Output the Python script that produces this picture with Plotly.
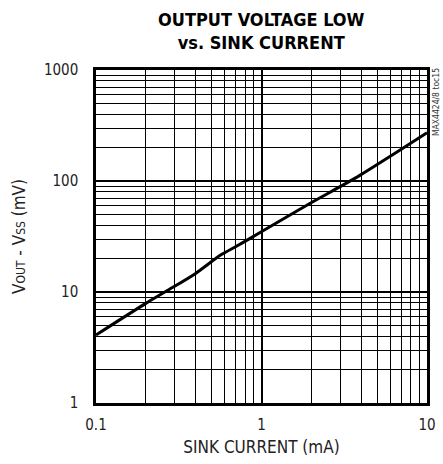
import plotly.graph_objects as go

sink_current_ma = [0.1, 0.2, 0.264, 0.4, 0.566, 0.697, 0.859, 0.986, 1.97, 2.99, 3.95, 6.88, 10.0]
vout_vss_mv = [4.1, 7.9, 10.1, 14.7, 21.5, 25.6, 30.6, 34.5, 63.0, 89.0, 113.0, 190.0, 272.0]

x_tickvals = [0.1, 1, 10]
x_ticktext = ["0.1", "1", "10"]
y_tickvals = [1, 10, 100, 1000]
y_ticktext = ["1", "10", "100", "1000"]

label_font = "DejaVu Sans Condensed, Liberation Sans Narrow, sans-serif"
title_font = "DejaVu Sans Condensed, sans-serif"

fig = go.Figure()
fig.add_trace(go.Scatter(
    x=sink_current_ma, y=vout_vss_mv, mode="lines",
    line=dict(color="black", width=3, shape="spline", smoothing=0.8),
    showlegend=False, hoverinfo="skip"))

fig.update_layout(
    width=443, height=464,
    margin=dict(l=96, r=16, t=70, b=61),
    paper_bgcolor="white", plot_bgcolor="white",
    font=dict(family=label_font, size=15, color="#222"),
)

fig.add_annotation(
    text="<b>OUTPUT VOLTAGE LOW<br>vs. SINK CURRENT</b>",
    xref="paper", yref="paper", x=0.5, y=1.0, xanchor="center", yanchor="bottom",
    yshift=15, showarrow=False, align="center",
    font=dict(family=title_font, size=18, color="black"))

fig.update_xaxes(
    type="log", range=[-1, 1], automargin=False,
    tickmode="array", tickvals=x_tickvals, ticktext=x_ticktext,
    showgrid=True, gridcolor="black", gridwidth=1.6,
    minor=dict(dtick="D1", showgrid=True, gridcolor="black", gridwidth=1, ticks=""),
    showline=True, linecolor="black", linewidth=2.5, mirror=True,
    ticks="", ticklabelstandoff=6, zeroline=False,
    title=dict(text="SINK CURRENT (mA)", font=dict(family=label_font, size=17, color="#222"), standoff=9),
    tickfont=dict(family=label_font, size=15, color="#222"),
)
fig.update_yaxes(
    type="log", range=[0, 3], automargin=False,
    tickmode="array", tickvals=y_tickvals, ticktext=y_ticktext,
    showgrid=True, gridcolor="black", gridwidth=1.6,
    minor=dict(dtick="D1", showgrid=True, gridcolor="black", gridwidth=1, ticks=""),
    showline=True, linecolor="black", linewidth=2.5, mirror=True,
    ticks="", ticklabelstandoff=12, zeroline=False,
    title=dict(text="V<span style='font-size:12px'>OUT</span> - V<span style='font-size:12px'>SS</span> (mV)",
               font=dict(family=label_font, size=17, color="#222"), standoff=14),
    tickfont=dict(family=label_font, size=15, color="#222"),
)

fig.add_annotation(
    text="MAX4424/8 toc15", textangle=-90,
    xref="paper", yref="paper", x=1.0, y=1.0, xanchor="left", yanchor="top",
    xshift=2, yshift=4, showarrow=False,
    font=dict(family=label_font, size=8.5, color="#333"))

fig.write_html("out.html", config={"displayModeBar": False},
               post_script="document.body.style.margin='0px';")
